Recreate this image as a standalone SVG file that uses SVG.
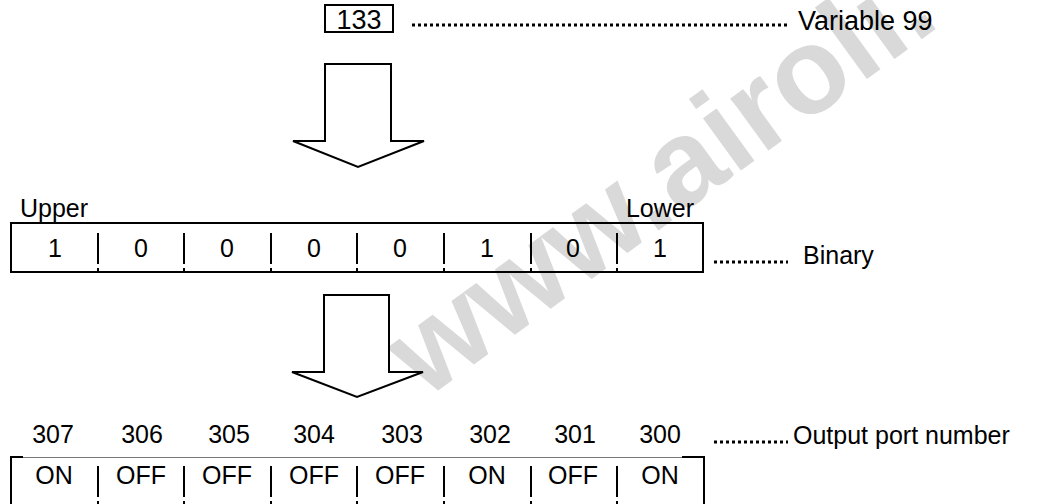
<svg xmlns="http://www.w3.org/2000/svg" width="1039" height="504" viewBox="0 0 1039 504">
<style>
text{font-family:"Liberation Sans",Arial,sans-serif;font-size:25px;fill:#000}
.c{text-anchor:middle}
.big{font-size:27px}
.box{fill:none;stroke:#000;stroke-width:2}
.arrow{fill:#fff;stroke:#000;stroke-width:2;stroke-linejoin:miter}
.div{stroke:#000;stroke-width:2}
.dot{stroke:#000;stroke-width:3;stroke-dasharray:3 3}
text.wm{font-family:"Liberation Sans",Arial,sans-serif;font-weight:bold;font-size:122px;fill:#d9d9d9}
</style>
<rect width="1039" height="504" fill="#fff"/>
<g id="watermark">
<text class="wm" x="0" y="0" transform="translate(425,400) rotate(-36)">www.airoli.</text>
</g>
<g id="value">
<rect x="325" y="5" width="68" height="27" fill="#fff" stroke="#000" stroke-width="2"/>
<text class="c big" x="359" y="29">133</text>
<text class="big" x="798" y="30">Variable 99</text>
</g>
<g id="binary">
<text x="20" y="217">Upper</text>
<text x="694" y="217" text-anchor="end">Lower</text>
<rect class="box" x="11" y="223" width="692" height="49"/>
<g class="div">
<line x1="98" y1="233" x2="98" y2="264"/><line x1="98" y1="268" x2="98" y2="271"/>
<line x1="184" y1="233" x2="184" y2="264"/><line x1="184" y1="268" x2="184" y2="271"/>
<line x1="271" y1="233" x2="271" y2="264"/><line x1="271" y1="268" x2="271" y2="271"/>
<line x1="357" y1="233" x2="357" y2="264"/><line x1="357" y1="268" x2="357" y2="271"/>
<line x1="444" y1="233" x2="444" y2="264"/><line x1="444" y1="268" x2="444" y2="271"/>
<line x1="531" y1="233" x2="531" y2="264"/><line x1="531" y1="268" x2="531" y2="271"/>
<line x1="617" y1="233" x2="617" y2="264"/><line x1="617" y1="268" x2="617" y2="271"/>
</g>
<text class="c" x="55" y="257">1</text>
<text class="c" x="141" y="257">0</text>
<text class="c" x="227" y="257">0</text>
<text class="c" x="314" y="257">0</text>
<text class="c" x="400" y="257">0</text>
<text class="c" x="487" y="257">1</text>
<text class="c" x="573" y="257">0</text>
<text class="c" x="660" y="257">1</text>
<text x="803" y="264">Binary</text>
</g>
<g id="output">
<text class="c" x="53" y="443">307</text>
<text class="c" x="142" y="443">306</text>
<text class="c" x="229" y="443">305</text>
<text class="c" x="314" y="443">304</text>
<text class="c" x="402" y="443">303</text>
<text class="c" x="490" y="443">302</text>
<text class="c" x="575" y="443">301</text>
<text class="c" x="660" y="443">300</text>
<line x1="23" y1="457.5" x2="682" y2="457.5" stroke="#777" stroke-width="1"/>
<path d="M23,457 H11 V504" fill="none" stroke="#000" stroke-width="2"/>
<path d="M682,457 H704 V504" fill="none" stroke="#000" stroke-width="2"/>
<g class="div">
<line x1="98" y1="466" x2="98" y2="497"/><line x1="98" y1="501" x2="98" y2="504"/>
<line x1="184" y1="466" x2="184" y2="497"/><line x1="184" y1="501" x2="184" y2="504"/>
<line x1="271" y1="466" x2="271" y2="497"/><line x1="271" y1="501" x2="271" y2="504"/>
<line x1="357" y1="466" x2="357" y2="497"/><line x1="357" y1="501" x2="357" y2="504"/>
<line x1="444" y1="466" x2="444" y2="497"/><line x1="444" y1="501" x2="444" y2="504"/>
<line x1="531" y1="466" x2="531" y2="497"/><line x1="531" y1="501" x2="531" y2="504"/>
<line x1="617" y1="466" x2="617" y2="497"/><line x1="617" y1="501" x2="617" y2="504"/>
</g>
<text class="c" x="54" y="484">ON</text>
<text class="c" x="141" y="484">OFF</text>
<text class="c" x="227" y="484">OFF</text>
<text class="c" x="314" y="484">OFF</text>
<text class="c" x="400" y="484">OFF</text>
<text class="c" x="487" y="484">ON</text>
<text class="c" x="573" y="484">OFF</text>
<text class="c" x="660" y="484">ON</text>
<text x="793" y="444">Output port number</text>
</g>
<g id="connectors">
<polygon class="arrow" points="325,64 391,64 391,141 424,141 358,167 293,141 325,141"/>
<polygon class="arrow" points="324,295 389,295 389,372 423,372 357,397 292,372 324,372"/>
<line class="dot" x1="412" y1="25" x2="787" y2="25"/>
<line class="dot" x1="714" y1="262" x2="788" y2="262"/>
<line class="dot" x1="714" y1="442" x2="788" y2="442"/>
</g>
</svg>
